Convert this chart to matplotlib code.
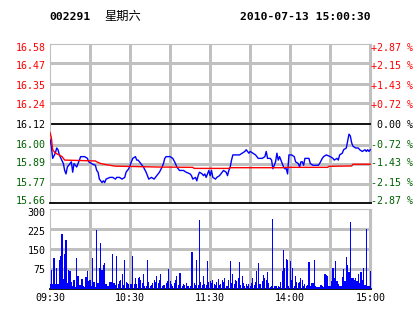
import matplotlib
matplotlib.use('Agg')
import matplotlib.pyplot as plt
import matplotlib.transforms as mtransforms

OUTPUT_FILE = "out.png"

STOCK_CODE = "002291"
WEEKDAY = "星期六"
TIMESTAMP = "2010-07-13 15:00:30"
PREV_CLOSE = 16.12

price_levels = [16.58, 16.47, 16.35, 16.24, 16.12, 16.00, 15.89, 15.77, 15.66]
pct_labels = ["+2.87 %", "+2.15 %", "+1.43 %", "+0.72 %", " 0.00 %",
              "-0.72 %", "-1.43 %", "-2.15 %", "-2.87 %"]
vol_levels = [300, 225, 150, 75]
time_ticks = [0, 60, 120, 180, 240]
time_labels = ["09:30", "10:30", "11:30", "14:00", "15:00"]

# minute index (0 = 09:30, 120 = 11:30/13:00, 240 = 15:00)
price_minutes = [0, 1, 2, 4, 5, 6, 7, 10, 11, 12, 13, 16, 17, 18, 20, 21, 23, 26, 28, 29,
                 31, 34, 35, 36, 37, 39, 40, 41, 42, 45, 47, 49, 50, 52, 54, 56, 57, 59, 60, 61,
                 62, 64, 65, 66, 68, 70, 72, 74, 76, 78, 80, 82, 84, 85, 86, 87, 90, 92, 94, 95,
                 97, 100, 102, 105, 106, 107, 109, 110, 111, 112, 114, 115, 116, 117, 119, 120, 121, 122, 124, 125,
                 127, 130, 132, 133, 134, 135, 136, 137, 140, 142, 144, 146, 147, 149, 150, 152, 154, 155, 156, 159,
                 161, 162, 163, 165, 166, 167, 169, 170, 171, 172, 174, 175, 176, 177, 178, 179, 181, 183, 184, 186,
                 187, 188, 189, 190, 191, 194, 195, 197, 199, 201, 202, 204, 205, 207, 210, 212, 213, 215, 216, 217,
                 219, 220, 222, 223, 224, 225, 226, 227, 229, 231, 232, 234, 236, 237, 238, 239, 240]
price_values = [16.03, 15.99, 15.92, 15.95, 15.98, 15.97, 15.94, 15.89, 15.85, 15.83, 15.87, 15.90, 15.84, 15.89, 15.87, 15.89, 15.93, 15.93, 15.92, 15.90,
                15.89, 15.88, 15.85, 15.84, 15.80, 15.78, 15.79, 15.78, 15.80, 15.81, 15.81, 15.80, 15.81, 15.81, 15.80, 15.81, 15.84, 15.86, 15.88, 15.90,
                15.92, 15.93, 15.91, 15.91, 15.89, 15.87, 15.84, 15.80, 15.81, 15.80, 15.82, 15.84, 15.87, 15.89, 15.92, 15.93, 15.93, 15.92, 15.89, 15.87,
                15.85, 15.85, 15.84, 15.83, 15.82, 15.80, 15.81, 15.79, 15.82, 15.84, 15.83, 15.82, 15.83, 15.81, 15.85, 15.82, 15.85, 15.81, 15.80, 15.81,
                15.82, 15.85, 15.84, 15.82, 15.85, 15.87, 15.91, 15.94, 15.94, 15.94, 15.95, 15.96, 15.97, 15.95, 15.96, 15.95, 15.94, 15.93, 15.92, 15.92,
                15.93, 15.96, 15.92, 15.92, 15.91, 15.86, 15.90, 15.95, 15.91, 15.93, 15.89, 15.87, 15.86, 15.86, 15.83, 15.94, 15.94, 15.93, 15.90, 15.89,
                15.87, 15.90, 15.90, 15.88, 15.92, 15.92, 15.89, 15.88, 15.88, 15.88, 15.89, 15.92, 15.93, 15.94, 15.93, 15.92, 15.91, 15.92, 15.91, 15.94,
                15.95, 15.97, 15.98, 16.02, 16.06, 16.05, 16.01, 15.99, 15.98, 15.98, 15.97, 15.96, 15.97, 15.96, 15.97, 15.96, 15.97]

avg_minutes = [0, 1, 2, 4, 7, 9, 11, 34, 35, 38, 41, 49, 80, 107, 108, 134, 135, 175, 176, 208, 209, 226, 227, 240]
avg_values = [16.07, 16.04, 15.97, 15.95, 15.94, 15.93, 15.91, 15.905, 15.90, 15.89, 15.885, 15.875, 15.87, 15.868,
              15.862, 15.862, 15.866, 15.866, 15.868, 15.868, 15.874, 15.876, 15.886, 15.886]

# volume per minute, 241 values
volumes = [16, 69, 16, 117, 18, 79, 16, 109, 125, 208,
           35, 129, 184, 22, 71, 65, 26, 10, 31, 4,
           117, 46, 14, 15, 35, 10, 4, 43, 65, 28,
           31, 10, 117, 25, 7, 223, 22, 77, 172, 70,
           88, 97, 16, 11, 9, 24, 24, 132, 19, 14,
           122, 16, 27, 34, 54, 15, 107, 24, 20, 16,
           16, 18, 125, 16, 41, 18, 38, 44, 34, 19,
           56, 10, 10, 107, 24, 10, 14, 19, 31, 26,
           49, 20, 34, 54, 10, 12, 15, 19, 28, 75,
           28, 18, 9, 20, 31, 49, 15, 59, 58, 9,
           16, 12, 19, 9, 9, 9, 140, 137, 21, 12,
           107, 12, 261, 26, 15, 46, 16, 15, 103, 24,
           28, 19, 31, 18, 15, 26, 35, 15, 16, 34,
           25, 41, 9, 9, 31, 103, 19, 55, 18, 34,
           29, 41, 99, 15, 46, 19, 11, 16, 9, 16,
           9, 21, 38, 13, 25, 65, 97, 16, 18, 29,
           50, 41, 31, 63, 20, 6, 10, 265, 9, 11,
           9, 9, 6, 25, 65, 144, 77, 110, 107, 9,
           103, 31, 79, 11, 46, 26, 21, 25, 40, 31,
           9, 16, 9, 12, 99, 9, 19, 19, 107, 9,
           4, 6, 6, 12, 11, 4, 54, 50, 46, 9,
           9, 29, 77, 38, 105, 28, 16, 9, 10, 44,
           75, 28, 119, 90, 63, 251, 41, 38, 31, 41,
           29, 54, 21, 63, 31, 77, 12, 226, 9, 9,
           66]

GRID = "#c0c0c0"
RED = "#ff0000"
GREEN = "#006000"
MONO = "DejaVu Sans Mono"
W, H = 414.0, 314.0
GRID_LW = 0.8


def level_color(p):
    if p > PREV_CLOSE + 1e-9:
        return RED
    if p < PREV_CLOSE - 1e-9:
        return GREEN
    return "black"


def grid_line(ax, horizontal, pos):
    if horizontal:
        ax.axhline(pos, color=GRID, linewidth=GRID_LW, zorder=1, antialiased=False)
    else:
        ax.axvline(pos, color=GRID, linewidth=GRID_LW, zorder=1, antialiased=False)


def frame(ax, xmax):
    ax.set_xlim(0, xmax)
    ax.set_xticks([])
    ax.set_yticks([])
    for side in ["top", "left", "right"]:
        ax.spines[side].set_color(GRID)
        ax.spines[side].set_linewidth(GRID_LW)
    ax.spines["bottom"].set_color("black")
    ax.spines["bottom"].set_linewidth(1.3)
    for m in range(30, 241, 30):
        grid_line(ax, False, m)


fig = plt.figure(figsize=(W / 100, H / 100), dpi=100)
fig.patch.set_facecolor("white")

left = 50 / W
width = 321 / W
ax = fig.add_axes([left, 1 - 203.3 / H, width, 159 / H])
axv = fig.add_axes([left, 1 - 288.5 / H, width, 79.2 / H])
XMAX = 240.5

# --- price panel ---
frame(ax, XMAX)
ax.set_ylim(price_levels[-1], price_levels[0])
for p in price_levels[1:-1]:
    if abs(p - PREV_CLOSE) < 1e-9:
        ax.axhline(p, color="black", linewidth=1.3, zorder=2)
    else:
        grid_line(ax, True, p)
ax.plot(price_minutes, price_values, color="#0000ff", linewidth=1.0, zorder=3)
ax.plot(avg_minutes, avg_values, color=RED, linewidth=1.0, zorder=4)

for i, (p, pct) in enumerate(zip(price_levels, pct_labels)):
    dy = -(3.6 - i * 0.7)
    col = level_color(p)
    tl = mtransforms.offset_copy(ax.get_yaxis_transform(), fig=fig, x=-4.5, y=dy, units="dots")
    ax.text(0, p, f"{p:.2f}", transform=tl, ha="right", va="center",
            color=col, fontsize=7.2, family=MONO, clip_on=False)
    tr = mtransforms.offset_copy(ax.get_yaxis_transform(), fig=fig, x=0.5, y=dy, units="dots")
    ax.text(1, p, pct, transform=tr, ha="left", va="center",
            color=col, fontsize=7.2, family=MONO, clip_on=False)

# --- volume panel ---
frame(axv, XMAX)
axv.set_ylim(0, 300)
for v in vol_levels[1:]:
    grid_line(axv, True, v)
axv.bar(range(len(volumes)), volumes, width=0.85, color="#0000ff", linewidth=0,
        zorder=3, antialiased=False)
for i, v in enumerate(vol_levels):
    dy = -(4.2 - i * 0.9)
    tl = mtransforms.offset_copy(axv.get_yaxis_transform(), fig=fig, x=-4.5, y=dy, units="dots")
    axv.text(0, v, str(v), transform=tl, ha="right", va="center",
             color="black", fontsize=7.2, family=MONO, clip_on=False)

tt = mtransforms.blended_transform_factory(axv.transData, fig.transFigure)
for m, lab in zip(time_ticks, time_labels):
    axv.text(m, 1 - 298.3 / H, lab, transform=tt, ha="center", va="center",
             fontsize=7.2, family=MONO, color="black", clip_on=False)

# --- header ---
fig.text(49.5 / W, 1 - 16.7 / H, STOCK_CODE, ha="left", va="center",
         fontsize=8.2, family=MONO, fontweight="bold")
fig.text(104.5 / W, 1 - 16.7 / H, WEEKDAY, ha="left", va="center",
         fontsize=8.8, family=["Noto Sans CJK SC", "DejaVu Sans"])
fig.text(371 / W, 1 - 16.7 / H, TIMESTAMP, ha="right", va="center",
         fontsize=8.2, family=MONO, fontweight="bold")

fig.savefig(OUTPUT_FILE, dpi=100)
plt.close(fig)
